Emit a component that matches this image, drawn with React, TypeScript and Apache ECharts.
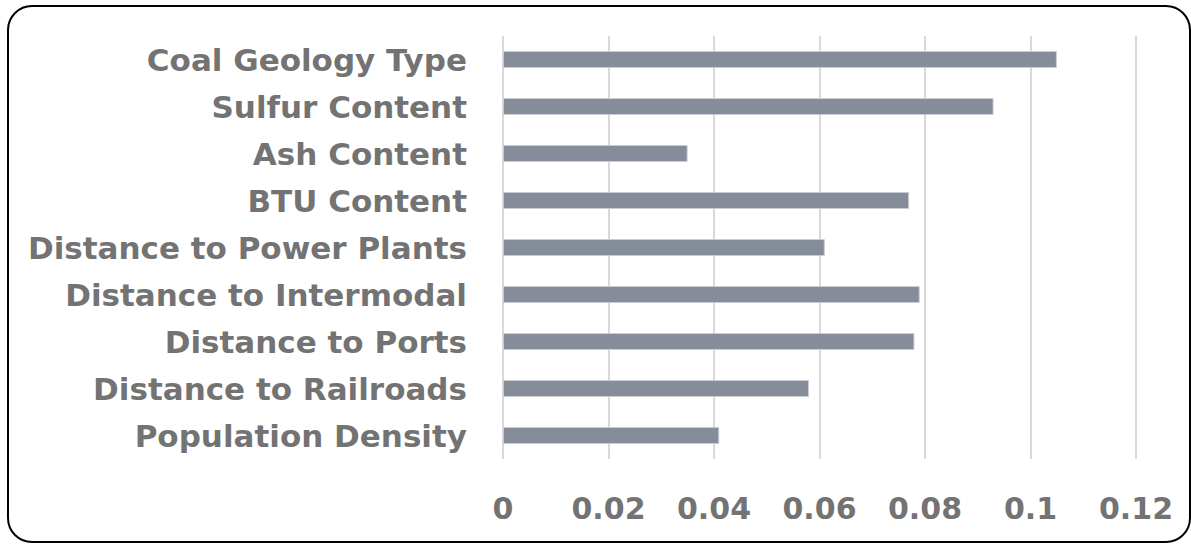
import React, { useEffect, useRef } from "react";
import * as echarts from "echarts";

const categories = [
  "Coal Geology Type",
  "Sulfur Content",
  "Ash Content",
  "BTU Content",
  "Distance to Power Plants",
  "Distance to Intermodal",
  "Distance to Ports",
  "Distance to Railroads",
  "Population Density",
];
const values = [0.105, 0.093, 0.035, 0.077, 0.061, 0.079, 0.078, 0.058, 0.041];
const xMin = 0;
const xMax = 0.12;
const xStep = 0.02;

export default function App() {
  const ref = useRef<HTMLDivElement>(null);
  useEffect(() => {
    document.body.style.margin = "0";
    const chart = echarts.init(ref.current!, null, { renderer: "svg" });
    const textColor = "#737373";
    chart.setOption({
      animation: false,
      backgroundColor: "#ffffff",
      graphic: [
        {
          type: "rect",
          shape: { x: 8, y: 6, width: 1182, height: 536, r: 24 },
          style: { fill: "none", stroke: "#000000", lineWidth: 2 },
          silent: true,
        },
      ],
      grid: { left: 503, right: 55, top: 36, bottom: 85, containLabel: false },
      xAxis: {
        type: "value",
        min: xMin,
        max: xMax,
        interval: xStep,
        axisLine: { show: false },
        axisTick: { show: false },
        splitLine: { show: true, lineStyle: { color: "#d9d9d9", width: 2 } },
        axisLabel: {
          color: textColor,
          fontFamily: "DejaVu Sans, sans-serif",
          fontWeight: "bold",
          fontSize: 30,
          margin: 34,
          formatter: (v: number) => String(parseFloat(v.toFixed(2))),
        },
      },
      yAxis: {
        type: "category",
        data: categories,
        inverse: true,
        axisLine: { show: false },
        axisTick: { show: false },
        splitLine: { show: false },
        axisLabel: {
          color: textColor,
          fontFamily: "DejaVu Sans, sans-serif",
          fontWeight: "bold",
          fontSize: 31,
          margin: 36,
        },
      },
      series: [
        {
          type: "bar",
          data: values,
          barWidth: 17,
          itemStyle: { color: "#858d9a", borderColor: "#c9cdd3", borderWidth: 1 },
        },
      ],
    });
    return () => chart.dispose();
  }, []);
  return <div ref={ref} style={{ width: 1191, height: 544 }} />;
}
